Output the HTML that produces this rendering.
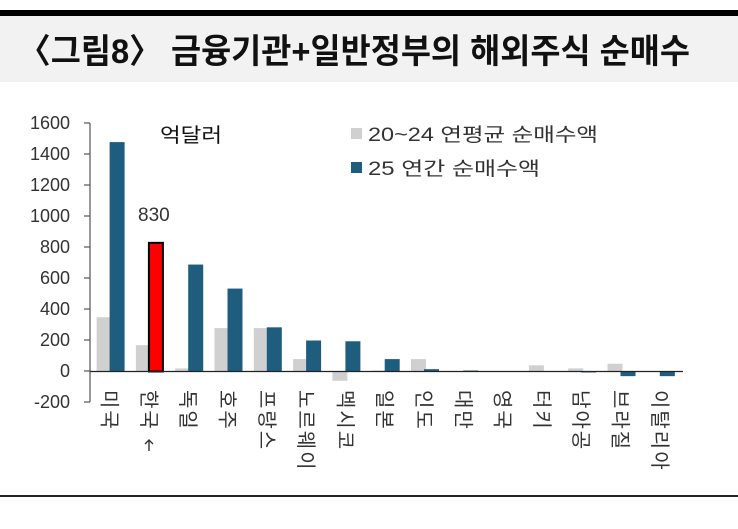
<!DOCTYPE html>
<html><head><meta charset="utf-8"><style>
body{margin:0;background:#fff;width:738px;height:524px;overflow:hidden;font-family:"Liberation Sans","Noto Sans CJK KR",sans-serif}
</style></head><body>
<svg width="738" height="524" xmlns="http://www.w3.org/2000/svg" font-family="Liberation Sans, Noto Sans CJK KR, sans-serif">
<rect x="0" y="10" width="738" height="6" fill="#000"/>
<rect x="0" y="16" width="738" height="66" fill="#f2f2f2"/>
<text x="18" y="63" font-size="34" font-weight="bold" fill="#111" textLength="672" lengthAdjust="spacingAndGlyphs">〈그림8〉 금융기관+일반정부의 해외주식 순매수</text>
<rect x="0" y="495" width="738" height="2" fill="#222"/>
<g font-size="18" fill="#333" text-anchor="end">
<text x="70" y="129">1600</text><text x="70" y="160">1400</text><text x="70" y="191">1200</text>
<text x="70" y="222">1000</text><text x="70" y="253">800</text><text x="70" y="284">600</text>
<text x="70" y="315">400</text><text x="70" y="346">200</text><text x="70" y="377">0</text>
<text x="70" y="408">-200</text>
</g>
<g stroke="#555" stroke-width="1.2">
<line x1="90" y1="123" x2="90" y2="402"/>
<line x1="84" y1="123" x2="90" y2="123"/><line x1="84" y1="154" x2="90" y2="154"/><line x1="84" y1="185" x2="90" y2="185"/><line x1="84" y1="216" x2="90" y2="216"/><line x1="84" y1="247" x2="90" y2="247"/><line x1="84" y1="278" x2="90" y2="278"/><line x1="84" y1="309" x2="90" y2="309"/><line x1="84" y1="340" x2="90" y2="340"/><line x1="84" y1="371" x2="90" y2="371"/><line x1="84" y1="402" x2="90" y2="402"/>
</g>
<g id="bars"></g>
<line x1="90" y1="371.5" x2="683" y2="371.5" stroke="#222" stroke-width="1.3"/>
<g id="labels" font-size="20" fill="#333"></g>
<g stroke="#333" stroke-width="1.4" fill="none">
<line x1="149" y1="440" x2="149" y2="451"/>
<polyline points="145,444 149,440 153,444"/>
</g>
<text x="160" y="142" font-size="20" fill="#111" textLength="62" lengthAdjust="spacingAndGlyphs">억달러</text>
<text x="138" y="221" font-size="19" fill="#333">830</text>
<rect x="351" y="128" width="11" height="11" fill="#d0d0d0"/>
<text x="368" y="141" font-size="19" fill="#333" textLength="230" lengthAdjust="spacingAndGlyphs">20~24 연평균 순매수액</text>
<rect x="351" y="162" width="11" height="11" fill="#1f5d7f"/>
<text x="368" y="175" font-size="19" fill="#333" textLength="172" lengthAdjust="spacingAndGlyphs">25 연간 순매수액</text>
</svg>
<script>
const L=[350,170,20,280,280,80,-60,5,80,0,0,40,20,50,0];
const D=[1480,830,690,535,285,200,195,80,15,5,0,0,-5,-30,-30];
const N=["미국","한국","독일","호주","프랑스","노르웨이","멕시코","일본","인도","대만","영국","터키","남아공","브라질","이탈리아"];
const s=0.155,z=371.5,ns="http://www.w3.org/2000/svg";
const B=document.getElementById("bars"),T=document.getElementById("labels");
function r(x,v,c,red){const e=document.createElementNS(ns,"rect");const h=Math.max(Math.abs(v)*s,v?1:0);e.setAttribute("x",x);e.setAttribute("width",red?14:15);e.setAttribute("y",v>=0?z-h:z);e.setAttribute("height",h);e.setAttribute("fill",c);if(red){e.setAttribute("stroke","#000");e.setAttribute("stroke-width","2");}B.appendChild(e);}
for(let i=0;i<15;i++){const c=90+19.6+i*39.3;
r(c-13,L[i],"#d0d0d0");r(c,D[i],i==1?"#ff0000":"#1f5d7f",i==1);
const t=document.createElementNS(ns,"text");t.setAttribute("transform",`translate(${c-7},390) rotate(90)`);t.setAttribute("letter-spacing","2");t.textContent=N[i];T.appendChild(t);}
</script>
</body></html>
